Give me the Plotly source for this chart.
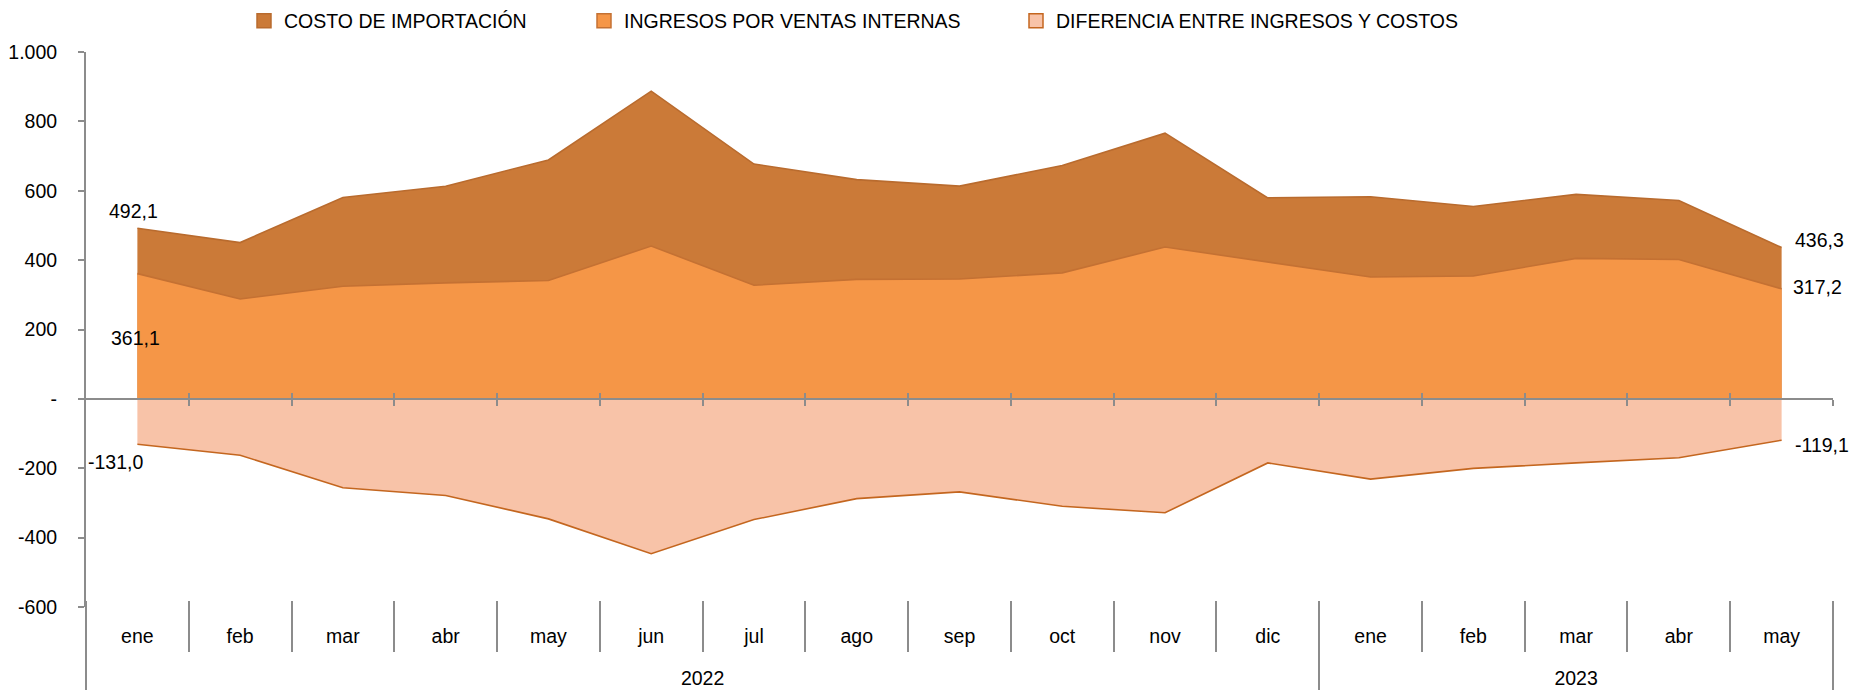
import plotly.graph_objects as go

months = ["ene", "feb", "mar", "abr", "may", "jun", "jul", "ago", "sep", "oct", "nov", "dic",
          "ene", "feb", "mar", "abr", "may"]
years = ["2022", "2023"]
year_counts = [12, 5]

costo = [492.1, 450.6, 580.6, 613.0, 688.8, 887.0, 677.0, 632.0, 613.4, 673.0, 766.0, 579.6,
         582.6, 554.8, 589.6, 571.7, 436.3]
ingresos = [361.1, 288.0, 324.6, 334.5, 341.4, 440.7, 327.5, 344.4, 345.4, 363.3, 437.7, 395.0,
            351.4, 354.4, 405.0, 402.0, 317.2]
diferencia = [-131.0, -162.6, -256.0, -278.5, -346.0, -446.3, -348.0, -287.6, -268.0, -309.7,
              -328.3, -184.6, -231.2, -200.4, -184.6, -169.7, -119.1]

y_tickvals = [-600, -400, -200, 0, 200, 400, 600, 800, 1000]
y_ticktext = ["-600", "-400", "-200", "-", "200", "400", "600", "800", "1.000"]

names = ["COSTO DE IMPORTACIÓN", "INGRESOS POR VENTAS INTERNAS", "DIFERENCIA ENTRE INGRESOS Y COSTOS"]
fills = ["#CB7A38", "#F59647", "#F8C3A8"]
lines = ["#B96B2E", "#C47133", "#C4661F"]

FONT = "Liberation Sans, Arial, sans-serif"
FS = 19.5
GRAY = "#8C8C8C"

n = len(months)
xi = list(range(n))
rng = [-0.5, n - 0.5]
bounds = [i + 0.5 for i in range(n)]

fig = go.Figure()
series = [costo, ingresos, diferencia]
for s, nm, fc, lc in zip(series, names, fills, lines):
    fig.add_trace(go.Scatter(x=xi, y=s, mode="lines", fill="tozeroy", fillcolor=fc,
                             line=dict(color=lc, width=1.6), name=nm, showlegend=False,
                             hoverinfo="y"))

# legend entries (one legend each, placed like the original)
legend_x = [244, 584, 1016]
for k, (nm, fc, lc) in enumerate(zip(names, fills, lines)):
    lg = "legend" if k == 0 else f"legend{k+1}"
    fig.add_trace(go.Scatter(x=[None], y=[None], mode="markers", name=nm,
                             marker=dict(symbol="square", size=14, color=fc,
                                         line=dict(color=lc, width=1.5)),
                             legend=lg, showlegend=True))

# helper traces for extra axes
for ax in ["x2", "x3", "x4", "x5", "x6"]:
    fig.add_trace(go.Scatter(x=[None], y=[None], xaxis=ax, yaxis="y", showlegend=False,
                             hoverinfo="skip"))

# data labels on first and last points
def fmt(v):
    return f"{v:.1f}".replace(".", ",")

first_shift = [(-4, 17), (-2, -64), (-22, -18)]
last_shift = [(38, 8), (36, 2), (40, -5)]
for s, fs_, ls_ in zip(series, first_shift, last_shift):
    fig.add_annotation(x=0, y=s[0], text=fmt(s[0]), showarrow=False, xshift=fs_[0], yshift=fs_[1],
                       font=dict(family=FONT, size=FS, color="#000"))
    fig.add_annotation(x=n - 1, y=s[-1], text=fmt(s[-1]), showarrow=False, xshift=ls_[0], yshift=ls_[1],
                       font=dict(family=FONT, size=FS, color="#000"))

# year centers / boundaries
year_centers = []
year_bounds = [-0.5]
start = 0
for c in year_counts:
    year_centers.append(start + (c - 1) / 2)
    start += c
    year_bounds.append(start - 0.5)

W, H = 1852, 690
plot_top, plot_bot = 52, 607
dom_h = plot_bot - plot_top
sep_pos = (plot_bot - 600) / dom_h
zero_pos = 600 / 1600

common = dict(range=rng, showgrid=False, zeroline=False, automargin=False,
              tickfont=dict(family=FONT, size=FS, color="#000"))

legends = {}
for k in range(3):
    key = "legend" if k == 0 else f"legend{k+1}"
    legends[key] = dict(xref="container", yref="container", x=legend_x[k] / W, y=1 - 21 / H,
                        xanchor="left", yanchor="middle", orientation="h", bgcolor="rgba(0,0,0,0)",
                        font=dict(family=FONT, size=FS, color="#000"), itemwidth=30)

fig.update_layout(
    width=W, height=H, autosize=False,
    margin=dict(l=86, r=19, t=plot_top, b=H - plot_bot, autoexpand=False),
    paper_bgcolor="white", plot_bgcolor="white",
    font=dict(family=FONT, size=FS, color="#000"),
    showlegend=True,
    hovermode="x",
    yaxis=dict(range=[-600, 1000], tickvals=y_tickvals, ticktext=y_ticktext, showgrid=False,
               zeroline=False, showline=True, linecolor=GRAY, linewidth=2, ticks="outside",
               ticklen=6, tickwidth=1.5, tickcolor=GRAY, ticklabelstandoff=17, automargin=False,
               tickfont=dict(family=FONT, size=FS, color="#000")),
    xaxis=dict(tickvals=xi, ticktext=months, ticks="", showline=False, ticklabelstandoff=15, **common),
    xaxis2=dict(overlaying="x", anchor="free", position=0, side="bottom", tickvals=year_centers,
                ticktext=years, ticks="", showline=False, ticklabelstandoff=57, **common),
    xaxis3=dict(overlaying="x", anchor="free", position=sep_pos, side="bottom", tickvals=bounds,
                showticklabels=False, ticks="outside", ticklen=51, tickwidth=1.5, tickcolor=GRAY,
                showline=False, **common),
    xaxis4=dict(overlaying="x", anchor="free", position=sep_pos, side="bottom", tickvals=year_bounds,
                showticklabels=False, ticks="outside", ticklen=92, tickwidth=1.5, tickcolor=GRAY,
                showline=False, **common),
    xaxis5=dict(overlaying="x", anchor="free", position=zero_pos, side="bottom", tickvals=bounds,
                showticklabels=False, ticks="outside", ticklen=6, tickwidth=1.5, tickcolor=GRAY,
                showline=True, linecolor=GRAY, linewidth=2, **common),
    xaxis6=dict(overlaying="x", anchor="free", position=zero_pos, side="bottom", tickvals=bounds,
                showticklabels=False, ticks="inside", ticklen=6, tickwidth=1.5, tickcolor=GRAY,
                showline=False, **common),
    **legends,
)

fig.write_html("out.html", config={"displayModeBar": False},
               post_script="document.body.style.margin='0';document.body.style.overflow='hidden';")
